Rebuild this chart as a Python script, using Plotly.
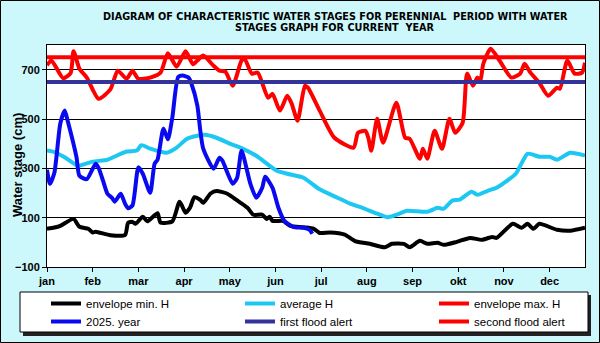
import plotly.graph_objects as go

# ---------------- data ----------------
months = ["jan", "feb", "mar", "apr", "may", "jun", "jul", "aug", "sep", "okt", "nov", "dec"]
month_pos = [0, 31, 62, 93, 124, 155, 186, 217, 248, 279, 310, 341]
y_ticks = [-100, 100, 300, 500, 700]

min_days = [0, 5, 9, 18, 22, 28, 31, 33, 43, 53, 55, 58, 60, 65, 68, 75, 77, 85, 90, 94,
            97, 100, 104, 106, 111, 115, 122, 129, 136, 140, 146, 149, 151, 153, 160, 165, 174, 181, 185, 192,
            202, 209, 219, 229, 234, 242, 246, 253, 258, 265, 269, 278, 287, 295, 302, 305, 316, 322, 326, 330,
            334, 346, 355, 365]
min_vals = [55, 60, 67, 95, 63, 55, 40, 43, 29, 30, 79, 83, 75, 104, 85, 118, 80, 85, 165, 120,
            140, 183, 172, 160, 198, 208, 198, 170, 140, 112, 112, 95, 104, 87, 87, 67, 61, 55, 38, 40,
            31, 5, -6, -20, -6, -6, -20, 6, -6, -2, -10, 2, 18, 10, 22, 18, 75, 59, 75, 55,
            75, 51, 47, 59]

avg_days = [0, 5, 12, 21, 26, 31, 41, 46, 54, 61, 64, 70, 81, 88, 95, 102, 107, 115, 124, 133,
            142, 156, 163, 174, 185, 197, 206, 214, 224, 231, 239, 244, 258, 265, 269, 275, 280, 288, 292, 299,
            305, 318, 326, 334, 341, 346, 355, 365]
avg_vals = [372, 366, 345, 310, 318, 327, 335, 348, 368, 372, 394, 380, 363, 384, 420, 432, 436, 424, 400, 379,
            351, 290, 278, 262, 215, 181, 156, 140, 116, 102, 116, 128, 124, 140, 136, 169, 173, 205, 193, 209,
            221, 278, 359, 347, 347, 335, 363, 352]

max_days = [0, 3, 11, 16, 18, 22, 27, 35, 43, 48, 54, 58, 62, 70, 77, 82, 88, 94, 99, 102,
            106, 113, 117, 121, 126, 132, 134, 139, 143, 150, 153, 158, 163, 166, 170, 175, 177, 185, 195, 208,
            211, 216, 218, 220, 224, 228, 237, 243, 246, 253, 255, 258, 263, 268, 273, 277, 282, 285, 289, 292,
            294, 296, 301, 307, 315, 321, 324, 328, 334, 340, 346, 348, 353, 358, 363, 365]
max_vals = [718, 737, 665, 686, 775, 704, 668, 582, 620, 696, 663, 696, 663, 668, 688, 767, 712, 775, 722, 737,
            757, 716, 696, 692, 635, 737, 745, 684, 688, 586, 602, 534, 594, 562, 493, 635, 627, 534, 424, 384,
            444, 452, 424, 371, 501, 404, 566, 424, 420, 339, 379, 339, 452, 379, 501, 444, 485, 684, 635, 668,
            655, 724, 785, 737, 668, 684, 724, 688, 647, 594, 627, 623, 737, 684, 688, 728]

cur_days = [0, 2, 5, 9, 12, 14, 20, 22, 27, 33, 35, 38, 41, 44, 46, 50, 53, 55, 58, 62,
            65, 70, 73, 75, 79, 82, 85, 89, 92, 96, 98, 102, 104, 106, 113, 117, 119, 126, 129, 132,
            138, 142, 146, 148, 153, 157, 161, 167, 174, 178, 180]
cur_vals = [294, 237, 282, 481, 534, 493, 345, 270, 256, 319, 302, 250, 197, 181, 165, 197, 156, 138, 150, 304,
            278, 201, 319, 335, 461, 418, 505, 670, 676, 668, 643, 554, 453, 380, 298, 343, 331, 237, 262, 371,
            237, 181, 221, 266, 221, 140, 87, 63, 59, 51, 35]

alert_days = [0, 365]
first_alert = 650
second_alert = 750

title_lines = ["DIAGRAM OF CHARACTERISTIC WATER STAGES FOR PERENNIAL  PERIOD WITH WATER",
               "STAGES GRAPH FOR CURRENT  YEAR"]
y_title = "Water stage (cm)"

# ---------------- figure ----------------
FONT = "Liberation Sans, Arial, sans-serif"
TFONT = "DejaVu Sans, Verdana, sans-serif"
W, H = 600, 343
L, R, T, B = 47, 15, 45, 76
PW, PH = W - L - R, H - T - B


def px(x):
    return (x - L) / PW


def py(y):
    return (H - B - y) / PH


fig = go.Figure()
series = [
    ("envelope min. H", min_days, min_vals, "#000000", "legend"),
    ("average H", avg_days, avg_vals, "#1CC8F2", "legend"),
    ("envelope max. H", max_days, max_vals, "#FF0000", "legend"),
    ("2025. year", cur_days, cur_vals, "#0A0AF0", "legend2"),
]
for name, xs, ys, col, lg in series:
    fig.add_trace(go.Scatter(x=xs, y=ys, name=name, mode="lines", legend=lg,
                             line=dict(color=col, width=4, shape="spline", smoothing=0.6)))
fig.add_trace(go.Scatter(x=alert_days, y=[first_alert] * 2, name="first flood alert", mode="lines",
                         legend="legend2", line=dict(color="#333399", width=4)))
fig.add_trace(go.Scatter(x=alert_days, y=[second_alert] * 2, name="second flood alert", mode="lines",
                         legend="legend2", line=dict(color="#FF0000", width=4)))

shapes = [
    dict(type="rect", xref="paper", yref="paper", x0=px(0.5), x1=px(W - 0.5), y0=py(0.5), y1=py(H - 0.5),
         line=dict(color="black", width=1), fillcolor="rgba(0,0,0,0)", layer="below"),
    dict(type="rect", xref="paper", yref="paper", x0=px(23), x1=px(591), y0=py(295), y1=py(336),
         line=dict(width=0), fillcolor="#222222", layer="below"),
    dict(type="rect", xref="paper", yref="paper", x0=px(20), x1=px(588), y0=py(292), y1=py(332),
         line=dict(color="black", width=1), fillcolor="white", layer="below"),
]

annotations = [
    dict(text="<b>%s</b>" % title_lines[0], xref="paper", yref="paper", x=px(335), y=py(16),
         xanchor="center", yanchor="middle", showarrow=False,
         font=dict(size=9.7, family=TFONT, color="black")),
    dict(text="<b>%s</b>" % title_lines[1], xref="paper", yref="paper", x=px(335), y=py(28),
         xanchor="center", yanchor="middle", showarrow=False,
         font=dict(size=9.7, family=TFONT, color="black")),
    dict(text="<b>%s</b>" % y_title, xref="paper", yref="paper", x=px(17), y=py(165),
         xanchor="center", yanchor="middle", textangle=-90, showarrow=False,
         font=dict(size=13, family=FONT, color="black")),
]

legend_common = dict(orientation="h", xanchor="left", yanchor="top",
                     bgcolor="rgba(0,0,0,0)", borderwidth=0, entrywidth=149, entrywidthmode="pixels",
                     itemwidth=30, traceorder="normal",
                     font=dict(size=11.5, family=FONT, color="black"))

fig.update_layout(
    width=W, height=H,
    margin=dict(l=L, r=R, t=T, b=B, autoexpand=False),
    paper_bgcolor="#CCF7FB",
    plot_bgcolor="white",
    font=dict(family=FONT, color="black"),
    xaxis=dict(range=[0, 365], tickmode="array", tickvals=month_pos, ticktext=months,
               ticks="outside", ticklen=4, tickcolor="black", showline=True, mirror=True,
               linecolor="black", linewidth=1, showgrid=False, zeroline=False,
               tickfont=dict(size=11, family=FONT, color="black", weight="bold")),
    yaxis=dict(range=[-100, 800], tickmode="array", tickvals=y_ticks,
               ticks="outside", ticklen=4, tickcolor="black", showline=True, mirror=True,
               linecolor="black", linewidth=1, showgrid=True, gridcolor="black", gridwidth=1,
               zeroline=False,
               tickfont=dict(size=11, family=FONT, color="black", weight="bold")),
    legend=dict(x=px(46), y=py(289), **legend_common),
    legend2=dict(x=px(46), y=py(307), **legend_common),
    shapes=shapes,
    annotations=annotations,
    showlegend=True,
)

fig.write_html("out.html")
